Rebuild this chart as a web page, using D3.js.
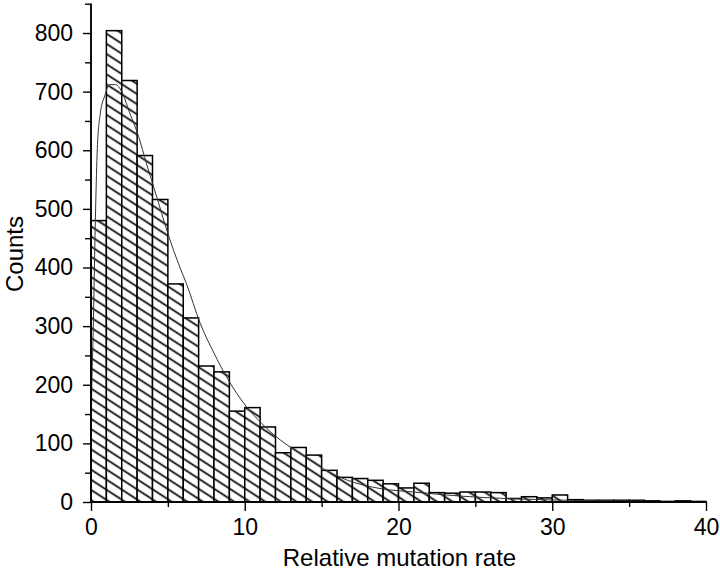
<!DOCTYPE html>
<html>
<head>
<meta charset="utf-8">
<script src="https://cdn.jsdelivr.net/npm/d3@7"></script>
<style>
  html, body { margin: 0; padding: 0; background: #fff; }
  svg { display: block; }
  text { font-family: "Liberation Sans", Arial, sans-serif; fill: #000; }
</style>
</head>
<body>
<svg id="chart" width="720" height="573"></svg>
<script>
// Histogram bins (left edges, width 1) and counts
const binStarts = d3.range(0, 40);
const counts = [480, 804, 719, 591, 516, 372, 314, 232, 222, 155,
                161, 128, 84, 93, 80, 54, 42, 40, 37, 31,
                24, 32, 16, 15, 17, 17, 16, 6, 9, 7,
                12, 4, 3, 3, 3, 3, 2, 1, 2, 1];
// Fitted curve points
const curveX = [0, 0.02, 0.15, 0.3, 0.41, 0.6, 0.9, 1.2, 1.6, 2.0, 2.5, 3.1, 3.6, 4.2, 5.0, 5.8, 6.2, 7.1, 8.0, 8.8, 10.1, 11.1, 12.3, 13.6, 15.1, 16.6, 18.8, 21, 23.1, 25.3, 28, 31, 34, 37, 40];
const curveY = [0, 128, 300, 500, 603, 662, 693, 712, 712, 700, 665, 623, 578, 527, 458, 399, 373, 305, 254, 214, 163, 134, 106, 83, 57, 38, 23, 17, 12, 8, 5, 3, 2, 1, 0.5];
const xMajorTicks = [0, 10, 20, 30, 40];
const xMinorTicks = [5, 15, 25, 35];
const yMajorTicks = [0, 100, 200, 300, 400, 500, 600, 700, 800];
const yMinorTicks = [50, 150, 250, 350, 450, 550, 650, 750, 850];
const xTitle = "Relative mutation rate";
const yTitle = "Counts";

const svg = d3.select("#chart");
const x = d3.scaleLinear().domain([0, 40]).range([91, 706]);
const y = d3.scaleLinear().domain([0, 850]).range([502, 3.7]);

// hatch pattern
const defs = svg.append("defs");
const pat = defs.append("pattern")
  .attr("id", "hatch")
  .attr("patternUnits", "userSpaceOnUse")
  .attr("width", 8.5).attr("height", 8.5)
  .attr("patternTransform", "rotate(33)");
pat.append("rect").attr("width", 8.5).attr("height", 8.5).attr("fill", "#fff");
pat.append("line").attr("x1", 0).attr("x2", 8.5).attr("y1", 4.25).attr("y2", 4.25)
  .attr("stroke", "#000").attr("stroke-width", 1.7);

const data = binStarts.map((s, i) => ({ s, c: counts[i] }));

svg.append("g").selectAll("rect").data(data).join("rect")
  .attr("x", d => x(d.s))
  .attr("y", d => y(d.c))
  .attr("width", d => x(d.s + 1) - x(d.s))
  .attr("height", d => y(0) - y(d.c))
  .attr("fill", "url(#hatch)")
  .attr("stroke", "#000")
  .attr("stroke-width", 1.5);

// fitted curve
const line = d3.line()
  .x((d, i) => x(curveX[i]))
  .y(d => y(d))
  .curve(d3.curveMonotoneX);
svg.append("path")
  .datum(curveY)
  .attr("d", line)
  .attr("fill", "none")
  .attr("stroke", "#333")
  .attr("stroke-width", 1);

// X axis
const gx = svg.append("g").attr("transform", `translate(0,${y(0)})`);
gx.call(d3.axisBottom(x).tickValues(xMajorTicks).tickSize(9).tickPadding(8).tickFormat(d3.format("d")));
gx.append("g").call(d3.axisBottom(x).tickValues(xMinorTicks).tickSize(5).tickFormat(""));
gx.selectAll(".domain").attr("stroke", "#000").attr("stroke-width", 1.5).attr("d", `M${x(0)},0H${x(40)}`);
gx.selectAll(".tick line").attr("stroke", "#000").attr("stroke-width", 1.4);
gx.selectAll(".tick text").style("font-size", "23px").attr("font-family", "Liberation Sans, Arial, sans-serif");

// Y axis
const gy = svg.append("g").attr("transform", `translate(${x(0)},0)`);
gy.call(d3.axisLeft(y).tickValues(yMajorTicks).tickSize(8).tickPadding(10).tickFormat(d3.format("d")));
gy.append("g").call(d3.axisLeft(y).tickValues(yMinorTicks).tickSize(6).tickFormat(""));
gy.selectAll(".domain").attr("stroke", "#000").attr("stroke-width", 1.5).attr("d", `M0,${y(0)}V${y(850)}`);
gy.selectAll(".tick line").attr("stroke", "#000").attr("stroke-width", 1.4);
gy.selectAll(".tick text").style("font-size", "23px").attr("font-family", "Liberation Sans, Arial, sans-serif");

// titles
svg.append("text")
  .attr("x", (x(0) + x(40)) / 2 + 1)
  .attr("y", 566)
  .attr("text-anchor", "middle")
  .style("font-size", "24px")
  .text(xTitle);
svg.append("text")
  .attr("transform", `translate(23,${254}) rotate(-90)`)
  .attr("text-anchor", "middle")
  .style("font-size", "24px")
  .text(yTitle);
</script>
</body>
</html>
